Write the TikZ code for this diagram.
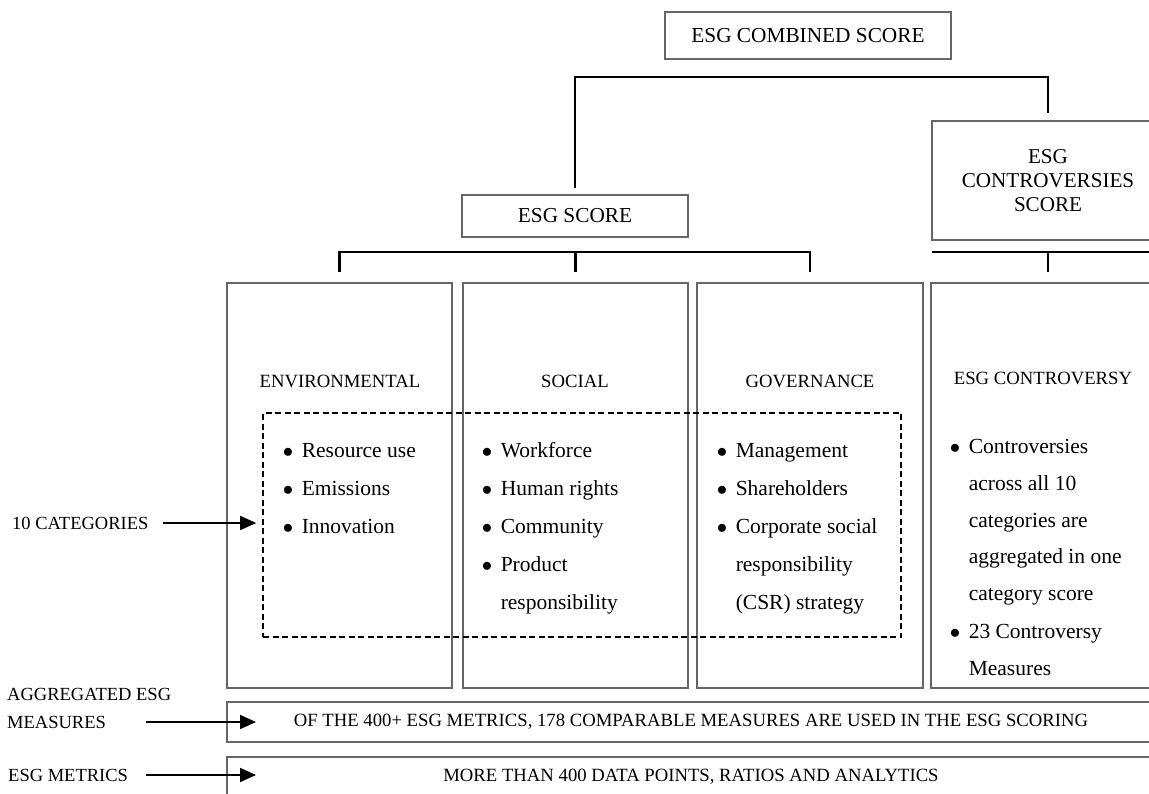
\documentclass[tikz,border=0pt]{standalone}
\usepackage{fontspec}
\setmainfont{Liberation Serif}
\usetikzlibrary{arrows.meta,positioning}

\newcommand{\fsize}[2]{\fontsize{#1}{#2}\selectfont}
\newcommand{\bitem}{$\bullet$}

\tikzset{
    box/.style={draw=black!60, line width=1.2pt, inner sep=0pt, outer sep=0pt},
    dashbox/.style={draw, dash pattern=on 6pt off 3.5pt, line width=1.6pt, inner sep=0pt},
    conn/.style={line width=2.2pt},
    arr/.style={line width=1.7pt, -{Triangle[length=16pt,width=14pt]}},
    head/.style={inner sep=0pt, font=\fsize{18.7}{22}},
    lbl/.style={anchor=west, inner sep=0pt, font=\fsize{18.5}{28}},
    items/.style={anchor=base west, inner sep=0pt, font=\fsize{21.5}{38}},
}

\begin{document}
\begin{tikzpicture}[x=1pt, y=-1pt]
    \clip (0,0) rectangle (1149,794);

    % scores
    \node [box, minimum width=286pt, minimum height=47pt, font=\fsize{21.3}{24}] (combined) at (808,35.5) {ESG COMBINED SCORE};
    \node [box, minimum width=226pt, minimum height=42pt, font=\fsize{21.3}{24}] (score) at (575,216) {ESG SCORE};
    \node [box, minimum width=232pt, minimum height=119pt, align=center, font=\fsize{21.1}{24}] (contro) at (1048,180.5) {ESG\\CONTROVERSIES\\SCORE};

    % pillars
    \foreach \n/\x/\w in {env/339.5/225, soc/575.5/225, gov/810/226, con/1048/234} {
        \node [box, minimum width=\w pt, minimum height=405pt] (\n) at (\x,485.5) {};
    }
    \node [head] (envh) at (340,381) {ENVIRONMENTAL};
    \node [head] (soch) at (575,381) {SOCIAL};
    \node [head] (govh) at (810,381) {GOVERNANCE};
    \node [head] (conh) at (1043,378) {ESG CONTROVERSY};

    % tree lines
    \draw [conn] ([yshift=7pt]score.north) -- ++(0,-111) -| ([yshift=8pt]contro.north);
    \draw [conn] ([yshift=11pt]env.north) |- ([yshift=31pt]gov.north) -- ([yshift=11pt]gov.north);
    \draw [conn] ([yshift=31pt]soc.north) -- ([yshift=11pt]soc.north);
    \draw [conn] ([yshift=-12pt]contro.south west) -- ([yshift=-12pt]contro.south east);
    \draw [conn] ([yshift=-12pt]contro.south) -- ([yshift=11pt]con.north);

    % categories
    \node [dashbox, minimum width=638pt, minimum height=224pt] (cats) at (582,525) {};
    \node [items] (envl) at (282.6,457) {\begin{tabular}[t]{@{}l@{\hspace{8.6pt}}l@{}}
        \bitem & Resource use\\ \bitem & Emissions\\ \bitem & Innovation\end{tabular}};
    \node [items] (socl) at (481.6,457) {\begin{tabular}[t]{@{}l@{\hspace{8.6pt}}l@{}}
        \bitem & Workforce\\ \bitem & Human rights\\ \bitem & Community\\
        \bitem & Product\\ & responsibility\end{tabular}};
    \node [items] (govl) at (716.6,457) {\begin{tabular}[t]{@{}l@{\hspace{8.6pt}}l@{}}
        \bitem & Management\\ \bitem & Shareholders\\ \bitem & Corporate social\\
        & responsibility\\ & (CSR) strategy\end{tabular}};
    \node [items, font=\fsize{21.5}{37}] (conl) at (949.6,453) {\begin{tabular}[t]{@{}l@{\hspace{8.6pt}}l@{}}
        \bitem & Controversies\\ & across all 10\\ & categories are\\ & aggregated in one\\
        & category score\\ \bitem & 23 Controversy\\ & Measures\end{tabular}};

    % measures and metrics
    \node [box, minimum width=928pt, minimum height=40pt, font=\fsize{18.7}{22}] (agg) at (691,722) {OF THE 400+ ESG METRICS, 178 COMPARABLE MEASURES ARE USED IN THE ESG SCORING};
    \node [box, minimum width=928pt, minimum height=40pt, font=\fsize{18.7}{22}] (met) at (691,777) {MORE THAN 400 DATA POINTS, RATIOS AND ANALYTICS};

    % left labels
    \node [lbl, align=left] (aggl) at (7,708) {AGGREGATED ESG\\MEASURES};
    \node [lbl] (metl) at (8,775) {ESG METRICS};
    \node [lbl] (catl) at (12,523) {10 CATEGORIES};
    \coordinate (aggfrom) at (146,722);
    \coordinate (aggtip) at (256,722);
    \coordinate (metfrom) at (146,775);
    \coordinate (mettip) at (256,775);
    \draw [arr, shorten <=14pt, shorten >=6pt] (catl) -- (catl -| cats.west);
    \draw [arr] (aggfrom) -- (aggtip);
    \draw [arr] (metfrom) -- (mettip);
\end{tikzpicture}
\end{document}
